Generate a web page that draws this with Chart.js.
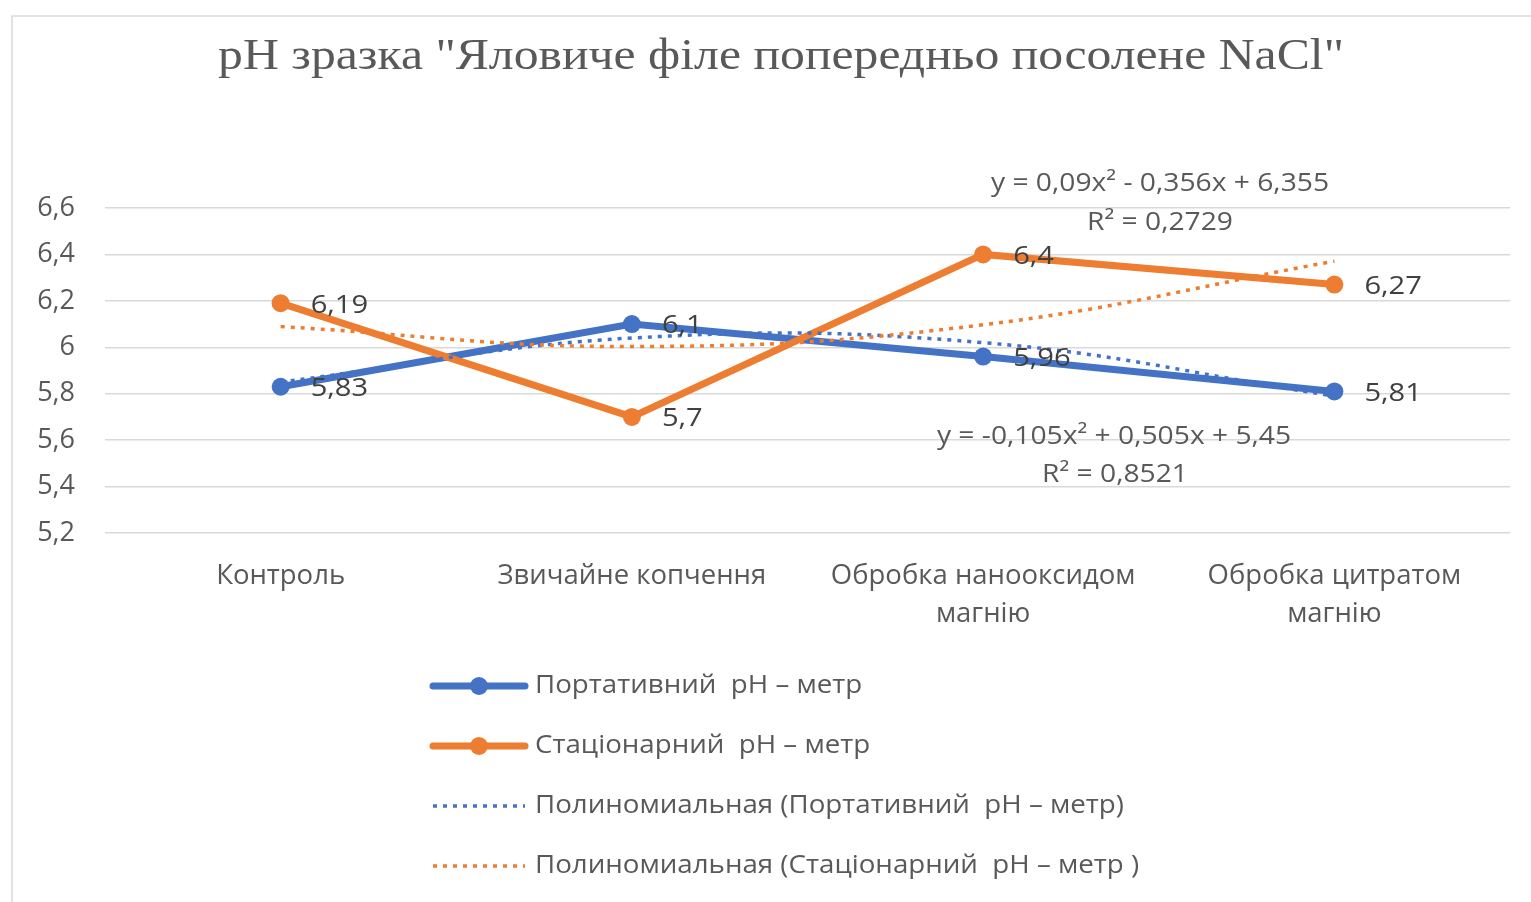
<!DOCTYPE html>
<html>
<head>
<meta charset="utf-8">
<script src="https://cdn.jsdelivr.net/npm/chart.js@4/dist/chart.umd.min.js"></script>
<style>
    html, body { margin: 0; padding: 0; background: #fff; }
    #wrap { position: relative; width: 1531px; height: 902px; }
</style>
</head>
<body>
<div id="wrap"><canvas id="lineChart"></canvas></div>
<script>
const categories = [
    ['Контроль'],
    ['Звичайне копчення'],
    ['Обробка нанооксидом', 'магнію'],
    ['Обробка цитратом', 'магнію']
];
const portable = [5.83, 6.1, 5.96, 5.81];
const stationary = [6.19, 5.7, 6.4, 6.27];
// trend values at each category, from the fitted polynomials
const portableTrend = [5.85, 6.04, 6.02, 5.79];
const stationaryTrend = [6.089, 6.003, 6.097, 6.371];
const yMin = 5.2;
const yMax = 6.6;
const yStep = 0.2;

const seriesNames = [
    'Портативний  pH – метр',
    'Стаціонарний  pH – метр',
    'Полиномиальная (Портативний  pH – метр)',
    'Полиномиальная (Стаціонарний  pH – метр )'
];
const titleText = 'pH зразка "Яловиче філе попередньо посолене NaCl"';
const portableEq = ['y = -0,105x² + 0,505x + 5,45', 'R² = 0,8521'];
const stationaryEq = ['y = 0,09x² - 0,356x + 6,355', 'R² = 0,2729'];

const BLUE = '#4472c4';
const ORANGE = '#ed7d31';
const GREY = '#595959';
const FONT = "'Open Sans', sans-serif";

function comma(v) {
    return String(v).replace('.', ',');
}

// text drawn a little wider than the font's natural width
function wideText(ctx, text, x, y, sx) {
    ctx.save();
    ctx.translate(x, y);
    ctx.scale(sx, 1);
    ctx.fillText(text, 0, 0);
    ctx.restore();
}

const extras = {
    id: 'extras',
    beforeDraw(chart) {
        const ctx = chart.ctx;
        ctx.save();
        // chart frame
        ctx.strokeStyle = '#d9d9d9';
        ctx.lineWidth = 1.5;
        ctx.beginPath();
        ctx.moveTo(12, chart.height);
        ctx.lineTo(12, 16);
        ctx.lineTo(chart.width, 16);
        ctx.stroke();

        ctx.fillStyle = GREY;
        ctx.font = "44px 'Liberation Serif', serif";
        ctx.textAlign = 'center';
        ctx.textBaseline = 'alphabetic';
        wideText(ctx, titleText, 781, 69, 1.13);
        ctx.restore();
    },
    afterDatasetsDraw(chart) {
        const ctx = chart.ctx;
        ctx.save();
        ctx.font = '26px ' + FONT;
        ctx.textBaseline = 'middle';

        // value labels to the right of each point
        ctx.fillStyle = '#404040';
        ctx.textAlign = 'left';
        [0, 1].forEach(i => {
            const meta = chart.getDatasetMeta(i);
            const values = chart.data.datasets[i].data;
            meta.data.forEach((pt, j) => {
                wideText(ctx, comma(values[j]), pt.x + 30, pt.y + 2, 1.12);
            });
        });

        // trend equations
        ctx.fillStyle = GREY;
        ctx.textAlign = 'center';
        wideText(ctx, stationaryEq[0], 1160, 184, 1.085);
        wideText(ctx, stationaryEq[1], 1160, 223, 1.085);
        wideText(ctx, portableEq[0], 1114, 437, 1.085);
        wideText(ctx, portableEq[1], 1115, 475, 1.085);

        // legend, one entry per row
        const rows = [686, 746, 806, 866];
        chart.data.datasets.forEach((ds, i) => {
            const y = rows[i];
            ctx.strokeStyle = ds.borderColor;
            if (ds.borderDash) {
                ctx.lineWidth = 3.5;
                ctx.lineCap = 'butt';
                ctx.setLineDash(ds.borderDash);
            } else {
                ctx.lineWidth = 7;
                ctx.lineCap = 'round';
                ctx.setLineDash([]);
            }
            ctx.beginPath();
            ctx.moveTo(433, y);
            ctx.lineTo(525, y);
            ctx.stroke();
            ctx.setLineDash([]);
            if (ds.pointRadius > 0) {
                ctx.fillStyle = ds.borderColor;
                ctx.beginPath();
                ctx.arc(479, y, 9, 0, Math.PI * 2);
                ctx.fill();
            }
            ctx.fillStyle = GREY;
            ctx.textAlign = 'left';
            wideText(ctx, ds.label, 535, y, 1.065);
        });
        ctx.restore();
    }
};

const ctx = document.getElementById('lineChart');

new Chart(ctx, {
    type: 'line',
    data: {
        labels: categories,
        datasets: [
            {
                label: seriesNames[0],
                data: portable,
                borderColor: BLUE,
                backgroundColor: BLUE,
                borderWidth: 7,
                pointRadius: 9,
                pointBorderWidth: 0,
                order: 3
            },
            {
                label: seriesNames[1],
                data: stationary,
                borderColor: ORANGE,
                backgroundColor: ORANGE,
                borderWidth: 7,
                pointRadius: 9,
                pointBorderWidth: 0,
                order: 2
            },
            {
                label: seriesNames[2],
                data: portableTrend,
                borderColor: BLUE,
                borderWidth: 3.5,
                borderDash: [4, 6],
                pointRadius: 0,
                tension: 0.4,
                order: 1
            },
            {
                label: seriesNames[3],
                data: stationaryTrend,
                borderColor: ORANGE,
                borderWidth: 3.5,
                borderDash: [4, 6],
                pointRadius: 0,
                tension: 0.4,
                order: 0
            }
        ]
    },
    options: {
        responsive: true,
        maintainAspectRatio: false,
        animation: false,
        layout: {
            padding: { left: 0, top: 208, right: 21, bottom: 269 }
        },
        plugins: {
            legend: { display: false },
            title: { display: false },
            tooltip: { enabled: false }
        },
        scales: {
            x: {
                offset: true,
                grid: { display: false, drawTicks: false },
                border: { display: false },
                ticks: {
                    color: GREY,
                    padding: 24,
                    maxRotation: 0,
                    autoSkip: false,
                    font: { family: FONT, size: 27.5, lineHeight: 1.38 }
                },
                afterFit: axis => { axis.height = 100; }
            },
            y: {
                min: yMin,
                max: yMax,
                grid: { color: '#d9d9d9', lineWidth: 1.5, drawTicks: false },
                border: { display: false },
                ticks: {
                    stepSize: yStep,
                    color: GREY,
                    padding: 30,
                    font: { family: FONT, size: 27 },
                    callback: value => comma(Number(value.toFixed(1)))
                },
                afterFit: axis => { axis.width = 105; }
            }
        }
    },
    plugins: [extras]
});
</script>
</body>
</html>
